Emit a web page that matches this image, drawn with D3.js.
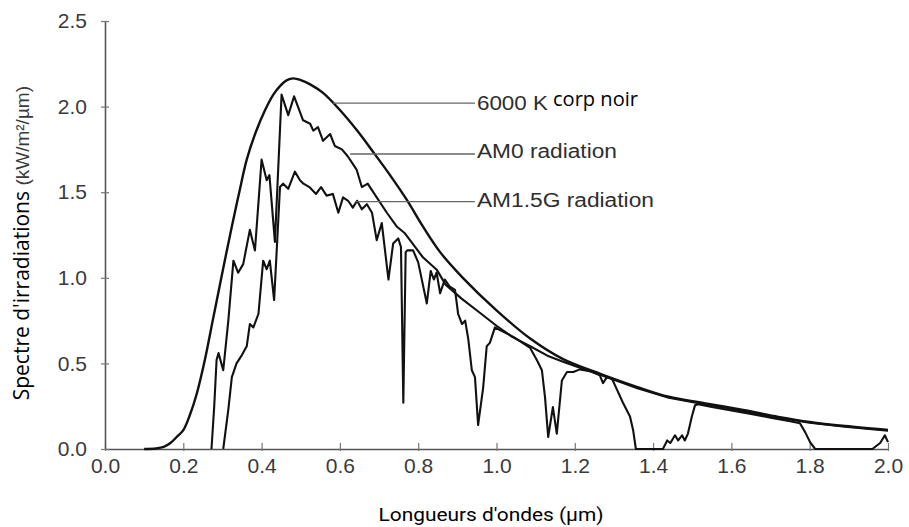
<!DOCTYPE html>
<html>
<head>
<meta charset="utf-8">
<script src="https://cdn.jsdelivr.net/npm/d3@7"></script>
<style>
  html, body { margin: 0; padding: 0; background: #ffffff; }
  svg { display: block; }
</style>
</head>
<body>
<svg id="chart" width="909" height="527"></svg>
<script>
// ---------------- DATA ----------------
const xTicks = [0.0, 0.2, 0.4, 0.6, 0.8, 1.0, 1.2, 1.4, 1.6, 1.8, 2.0];
const yTicks = [0.0, 0.5, 1.0, 1.5, 2.0, 2.5];

// 6000 K black body (wavelength µm, kW/m²/µm)
const blackbody = [[0.10,0],[0.13,0.003],[0.15,0.012],[0.167,0.035],[0.183,0.07],[0.20,0.11],
  [0.217,0.2],[0.234,0.32],[0.255,0.52],[0.276,0.76],[0.298,1.01],[0.324,1.30],[0.343,1.50],
  [0.362,1.69],[0.385,1.85],[0.409,1.98],[0.43,2.07],[0.447,2.12],[0.465,2.155],[0.481,2.165],
  [0.50,2.155],[0.524,2.13],[0.557,2.08],[0.60,1.98],[0.644,1.86],[0.685,1.735],[0.728,1.60],
  [0.771,1.455],[0.812,1.30],[0.856,1.15],[0.914,1.00],[1.0,0.81],[1.086,0.645],[1.17,0.525],
  [1.27,0.435],[1.36,0.362],[1.44,0.305],[1.53,0.268],[1.63,0.228],[1.72,0.188],[1.80,0.158],
  [1.89,0.134],[2.0,0.111]];

// AM0 radiation
const am0 = [[0.272,0],[0.279,0.25],[0.285,0.52],[0.290,0.56],[0.302,0.46],[0.315,0.75],
  [0.328,1.10],[0.340,1.03],[0.353,1.08],[0.370,1.28],[0.383,1.16],[0.400,1.69],[0.413,1.57],
  [0.420,1.60],[0.434,1.21],[0.451,2.07],[0.468,1.95],[0.483,2.06],[0.506,1.92],[0.524,1.90],
  [0.532,1.86],[0.544,1.88],[0.557,1.80],[0.575,1.84],[0.587,1.77],[0.605,1.75],[0.62,1.71],
  [0.643,1.63],[0.656,1.53],[0.671,1.55],[0.694,1.47],[0.72,1.38],[0.745,1.30],[0.766,1.26],
  [0.792,1.18],[0.812,1.12],[0.848,1.045],[0.87,0.96],[0.91,0.88],[0.955,0.80],[1.0,0.72],
  [1.04,0.655],[1.086,0.60],[1.13,0.545],[1.17,0.51],[1.213,0.475],[1.27,0.43],[1.36,0.355],
  [1.44,0.30],[1.53,0.262],[1.63,0.222],[1.72,0.183],[1.80,0.154],[1.89,0.13],[2.0,0.107]];

// AM1.5G radiation
const am15g = [[0.302,0],[0.315,0.23],[0.324,0.42],[0.336,0.50],[0.350,0.55],[0.362,0.60],
  [0.370,0.73],[0.379,0.71],[0.392,0.79],[0.404,1.10],[0.413,1.05],[0.421,1.10],[0.432,0.87],
  [0.447,1.53],[0.455,1.55],[0.468,1.52],[0.485,1.62],[0.498,1.57],[0.507,1.55],[0.522,1.53],
  [0.539,1.49],[0.552,1.53],[0.566,1.48],[0.582,1.49],[0.596,1.38],[0.608,1.47],[0.621,1.45],
  [0.633,1.41],[0.644,1.45],[0.656,1.40],[0.669,1.43],[0.682,1.38],[0.694,1.22],[0.707,1.32],
  [0.724,0.99],[0.736,1.20],[0.749,1.23],[0.756,1.18],[0.762,0.27],[0.768,1.15],[0.772,1.16],
  [0.787,1.16],[0.800,1.09],[0.822,0.85],[0.832,1.04],[0.840,0.99],[0.847,1.03],[0.856,0.91],
  [0.868,0.99],[0.880,0.95],[0.894,0.93],[0.902,0.79],[0.912,0.73],[0.920,0.75],[0.928,0.64],
  [0.937,0.46],[0.945,0.42],[0.953,0.14],[0.966,0.36],[0.975,0.60],[0.983,0.62],[0.996,0.71],
  [1.043,0.655],[1.086,0.59],[1.103,0.52],[1.116,0.46],[1.124,0.30],[1.132,0.07],[1.144,0.245],
  [1.154,0.09],[1.167,0.40],[1.180,0.45],[1.196,0.45],[1.213,0.465],[1.239,0.455],[1.264,0.43],
  [1.272,0.385],[1.282,0.42],[1.295,0.41],[1.308,0.345],[1.323,0.27],[1.341,0.19],[1.349,0.11],
  [1.356,0],[1.425,0],[1.436,0.05],[1.444,0.035],[1.456,0.08],[1.464,0.05],[1.474,0.08],
  [1.481,0.05],[1.489,0.09],[1.499,0.19],[1.507,0.255],[1.515,0.262],[1.55,0.245],[1.60,0.225],
  [1.65,0.205],[1.70,0.183],[1.75,0.162],[1.775,0.15],[1.788,0.10],[1.801,0.04],[1.814,0],
  [1.96,0],[1.98,0.035],[1.992,0.08],[2.0,0.04]];

// Annotation leader lines: [start wavelength, end wavelength, value]
const seriesLabels = ["6000 K", "AM0 radiation", "AM1.5G radiation"];
const leaderLines = [[0.582, 0.945, 2.02], [0.626, 0.945, 1.723], [0.639, 0.945, 1.445]];

// ---------------- LAYOUT ----------------
const svg = d3.select("#chart");
const x = d3.scaleLinear().domain([0, 2]).range([105, 888]);
const y = d3.scaleLinear().domain([0, 2.5]).range([449, 21]);
const tickFont = "'Liberation Sans', Arial, sans-serif";

// Axes
const xAxis = d3.axisBottom(x).tickValues(xTicks).tickFormat(d3.format(".1f"))
  .tickSizeInner(-6).tickSizeOuter(0).tickPadding(9);
const gx = svg.append("g").attr("transform", `translate(0,${y(0)})`).call(xAxis);
const yAxis = d3.axisLeft(y).tickValues(yTicks).tickFormat(d3.format(".1f"))
  .tickSizeInner(4).tickSizeOuter(0).tickPadding(14);
const gy = svg.append("g").attr("transform", `translate(${x(0)},0)`).call(yAxis);

[gx, gy].forEach(g => {
  g.select(".domain").attr("stroke", "#555").attr("stroke-width", 1.6);
  g.selectAll(".tick line").attr("stroke", "#777").attr("stroke-width", 1.2);
  g.selectAll(".tick text").attr("fill", "#3a3a3a")
    .style("font-family", tickFont).style("font-size", "21px");
});
gx.selectAll(".tick line").attr("y2", -6).attr("y1", 2);
gy.selectAll(".tick line").attr("x1", 4).attr("x2", -4);

// Curves
const line = d3.line().x(d => x(d[0])).y(d => y(d[1]));
svg.append("path").datum(blackbody)
  .attr("d", line.curve(d3.curveCatmullRom.alpha(0.5))(blackbody))
  .attr("fill", "none").attr("stroke", "#111").attr("stroke-width", 2.4);
const jag = d3.line().x(d => x(d[0])).y(d => y(d[1])).curve(d3.curveLinear);
[am0, am15g].forEach(s => {
  svg.append("path").datum(s).attr("d", jag)
    .attr("fill", "none").attr("stroke", "#111").attr("stroke-width", 2.1)
    .attr("stroke-linejoin", "round");
});

// Leader lines and labels
const labelBaselines = [7, 4, 5];
const labelWidths = [71, 140, 177];
leaderLines.forEach((l, i) => {
  svg.append("line")
    .attr("x1", x(l[0])).attr("x2", x(l[1]))
    .attr("y1", y(l[2])).attr("y2", y(l[2]))
    .attr("stroke", "#666").attr("stroke-width", 1.3);
  svg.append("text")
    .attr("x", x(l[1]) + 2).attr("y", y(l[2]) + labelBaselines[i])
    .attr("fill", "#2e2e2e")
    .attr("textLength", labelWidths[i]).attr("lengthAdjust", "spacingAndGlyphs")
    .style("font-family", tickFont).style("font-size", "20px")
    .text(seriesLabels[i]);
});
svg.append("text")
  .attr("x", 553).attr("y", y(leaderLines[0][2]) + 3)
  .attr("fill", "#000")
  .attr("textLength", 85).attr("lengthAdjust", "spacingAndGlyphs")
  .style("font-family", "'Open Sans', sans-serif").style("font-size", "20px")
  .text("corp noir");

// Axis titles
svg.append("text")
  .attr("x", 491).attr("y", 521)
  .attr("text-anchor", "middle")
  .attr("fill", "#000")
  .attr("textLength", 225).attr("lengthAdjust", "spacingAndGlyphs")
  .style("font-family", "Roboto, sans-serif").style("font-size", "19px")
  .text("Longueurs d'ondes (µm)");

const yt = svg.append("text")
  .attr("transform", "translate(29,86) rotate(-90)")
  .attr("text-anchor", "end");
yt.append("tspan").attr("fill", "#000")
  .style("font-family", "'Open Sans', sans-serif").style("font-size", "21px")
  .text("Spectre d'irradiations ");
yt.append("tspan").attr("fill", "#3a3a3a")
  .style("font-family", tickFont).style("font-size", "19px")
  .text("(kW/m²/µm)");
</script>
</body>
</html>
